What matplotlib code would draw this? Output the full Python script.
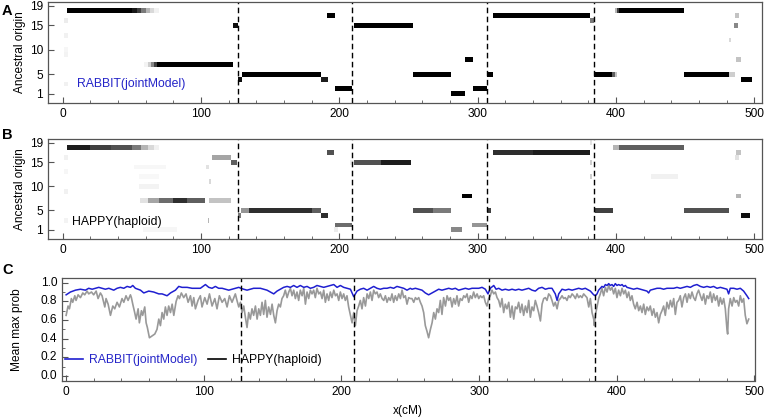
import numpy as np
import matplotlib
matplotlib.use('Agg')
import matplotlib.pyplot as plt
from matplotlib.lines import Line2D
from matplotlib.ticker import MultipleLocator, FixedLocator
from matplotlib.transforms import blended_transform_factory

plt.rcParams['font.family'] = ['Liberation Sans', 'DejaVu Sans']

# ---------------- data ----------------
chrom_boundaries = [127, 209, 307, 384]
founder_ticks = [1, 5, 10, 15, 19]
n_founders = 19
x_major_ticks = [0, 100, 200, 300, 400, 500]
prob_ticks = [0.0, 0.2, 0.4, 0.6, 0.8, 1.0]
prob_tick_labels = ['0.0', '0.2', '0.4', '0.6', '0.8', '1.0']

# (start cM, end cM, founder, posterior probability)
rabbit_segments = [
    (3, 50, 18, 1.0), (50, 54, 18, 0.92), (54, 57, 18, 0.8), (57, 60, 18, 0.6),
    (60, 63, 18, 0.4), (63, 66, 18, 0.25), (66, 70, 18, 0.12),
    (59, 62, 7, 0.1), (62, 64, 7, 0.3), (64, 66, 7, 0.55), (66, 68, 7, 0.8), (68, 123, 7, 1.0),
    (123, 127, 15, 0.95), (127, 130, 4, 0.95), (130, 187, 5, 1.0),
    (187, 192, 4, 0.9), (191, 197, 17, 1.0), (197, 209, 2, 1.0),
    (211, 253, 15, 1.0), (253, 281, 5, 1.0), (281, 291, 1, 1.0),
    (291, 297, 8, 1.0), (297, 307, 2, 1.0), (307, 311, 5, 1.0),
    (311, 381, 17, 1.0), (381, 384, 16, 0.6), (384, 397, 5, 1.0),
    (397, 399, 5, 0.7), (399, 401, 5, 0.35), (399, 401, 18, 0.4), (401, 402, 18, 0.8),
    (402, 449, 18, 1.0),
    (449, 482, 5, 1.0), (482, 486, 5, 0.3), (490, 498, 4, 1.0),
    (486, 489, 17, 0.35), (485, 488, 15, 0.55), (487, 490, 8, 0.35),
    (482, 483, 12, 0.25),
    (1, 4, 16, 0.15), (1, 4, 13, 0.12), (1, 4, 10, 0.08), (1, 4, 9, 0.1), (1, 4, 3, 0.12),
]

happy_segments = [
    (3, 20, 18, 0.9), (20, 35, 18, 0.8), (35, 50, 18, 0.75), (50, 57, 18, 0.6),
    (57, 62, 18, 0.4), (62, 66, 18, 0.25), (66, 70, 18, 0.12),
    (56, 62, 7, 0.2), (62, 70, 7, 0.45), (70, 80, 7, 0.65), (80, 90, 7, 0.85),
    (90, 103, 7, 0.7), (106, 122, 7, 0.35),
    (108, 122, 16, 0.45), (122, 126, 15, 0.7), (127, 129, 4, 0.6),
    (129, 135, 5, 0.5), (135, 180, 5, 0.85), (180, 187, 5, 0.7),
    (187, 192, 4, 0.85), (191, 196, 17, 0.75), (197, 209, 2, 0.65),
    (211, 230, 15, 0.75), (230, 252, 15, 0.9),
    (253, 268, 5, 0.75), (268, 281, 5, 0.6), (281, 289, 1, 0.55),
    (289, 296, 8, 1.0), (296, 307, 2, 0.5), (307, 310, 5, 0.8),
    (311, 340, 17, 0.85), (340, 381, 17, 0.9),
    (381, 383, 19, 0.2), (381, 383, 15, 0.3), (381, 383, 12, 0.3),
    (385, 398, 5, 0.8), (398, 402, 18, 0.4), (402, 449, 18, 0.7),
    (425, 445, 12, 0.12), (449, 482, 5, 0.75), (490, 497, 4, 0.95),
    (487, 490, 17, 0.35), (486, 489, 16, 0.2), (487, 490, 8, 0.4),
    (105, 106, 3, 0.4), (106, 107, 11, 0.25), (104, 106, 14, 0.2),
    (58, 83, 1, 0.08), (52, 75, 14, 0.07), (55, 70, 12, 0.06), (55, 70, 10, 0.1),
    (1, 4, 16, 0.12), (1, 4, 9, 0.12), (1, 4, 13, 0.08), (1, 4, 3, 0.1),
    (196, 199, 1, 0.15), (208, 212, 15, 0.15),
]

rabbit_x = [0.0, 3.1, 6.8, 10.4, 14.0, 16.4, 18.9, 21.3, 23.7, 26.1, 28.5, 31.0, 34.6,
            37.0, 39.4, 41.9, 44.3, 46.7, 48.4, 50.3, 54.0, 56.4, 60.0, 63.6, 67.3, 69.7,
            73.3, 75.8, 79.4, 81.8, 84.2, 87.9, 91.5, 93.9, 97.5, 101.2, 103.6, 106.0,
            108.4, 110.8, 113.3, 115.7, 118.1, 120.5, 122.9,
            125.4, 127.0, 129.0, 131.4, 133.8, 136.2, 138.7, 141.1, 143.5, 145.9, 148.4,
            150.8, 153.2, 155.6, 158.0, 160.5, 162.9, 165.3, 167.7, 170.1, 172.6, 175.0,
            177.4, 179.8, 182.2, 184.7, 187.1, 189.5, 191.9, 194.4, 196.8, 199.2, 201.6,
            204.0, 206.5, 208.9, 211.3, 213.7, 216.1, 218.6, 221.0, 223.4, 225.8, 228.2,
            230.7, 233.1, 235.5, 237.9, 240.3, 242.8, 245.2, 247.6, 250.0,
            251.2, 253.7, 256.1, 258.5, 260.9, 263.3, 265.8, 268.2, 270.6, 273.0, 275.5,
            277.9, 280.3, 282.7, 285.1, 287.6, 290.0, 292.4, 294.8, 297.2, 299.7, 302.1,
            304.5, 306.4, 308.1, 310.6, 312.3, 314.2, 316.6, 319.0, 321.5, 323.9, 326.3,
            328.7, 331.1, 333.6, 336.0, 338.4, 340.8, 343.2, 345.7, 348.1, 350.5, 352.9,
            355.3, 356.6, 357.8, 360.2, 362.6, 365.0, 367.5, 369.9, 372.3, 374.7, 377.1,
            378.3, 380.8, 383.2, 384.4, 385.6, 386.8, 388.0, 389.2, 390.4, 391.7, 392.9,
            394.1, 395.3, 396.5, 397.7, 398.9, 400.1, 401.3, 402.6, 403.8, 405.0, 406.2,
            407.4, 409.8, 412.2, 414.7, 417.1, 419.5, 421.9, 423.1, 424.3, 426.8, 429.2,
            431.6, 434.0, 436.4, 438.9, 441.3, 443.7, 446.1, 448.6, 451.0, 453.4, 455.8,
            458.2, 460.7, 463.1, 465.5, 467.9, 470.3, 472.8, 475.2, 477.6, 480.0, 481.2,
            482.4, 484.9, 487.3, 489.7, 492.1, 494.5, 495.8]
rabbit_prob = [0.87, 0.90, 0.92, 0.93, 0.92, 0.94, 0.93, 0.94, 0.95, 0.94, 0.93, 0.94, 0.92,
               0.94, 0.95, 0.94, 0.96, 0.95, 0.97, 0.94, 0.92, 0.89, 0.91, 0.90, 0.88, 0.88,
               0.86, 0.89, 0.92, 0.96, 0.95, 0.95, 0.94, 0.94, 0.94, 0.98, 0.95, 0.94,
               0.96, 0.94, 0.94, 0.93, 0.92, 0.93, 0.94,
               0.95, 0.94, 0.93, 0.92, 0.93, 0.94, 0.94, 0.94, 0.93, 0.92, 0.90,
               0.88, 0.91, 0.93, 0.95, 0.96, 0.95, 0.97, 0.95, 0.97, 0.95, 0.96,
               0.94, 0.95, 0.97, 0.96, 0.95, 0.96, 0.97, 0.98, 0.95, 0.97, 0.95,
               0.94, 0.93, 0.85, 0.91, 0.93, 0.94, 0.92, 0.94, 0.96, 0.94, 0.93,
               0.94, 0.94, 0.95, 0.94, 0.96, 0.95, 0.94, 0.92, 0.94,
               0.93, 0.94, 0.93, 0.92, 0.89, 0.87, 0.89, 0.91, 0.93, 0.92, 0.93,
               0.94, 0.93, 0.94, 0.92, 0.93, 0.94, 0.93, 0.94, 0.94, 0.94, 0.95,
               0.93, 0.88, 0.94, 0.97, 0.93, 0.94, 0.92, 0.93, 0.92, 0.93, 0.92,
               0.93, 0.92, 0.93, 0.94, 0.92, 0.91, 0.94, 0.95, 0.93, 0.94, 0.94,
               0.88, 0.81, 0.88, 0.93, 0.92, 0.93, 0.92, 0.93, 0.94, 0.93, 0.94,
               0.93, 0.91, 0.87, 0.86, 0.88, 0.92, 0.94, 0.96, 0.95, 0.98, 0.97,
               0.99, 0.97, 0.98, 0.96, 0.99, 0.97, 0.98, 0.97, 0.98, 0.96, 0.97,
               0.95, 0.94, 0.93, 0.94, 0.93, 0.92, 0.91, 0.89, 0.92, 0.93, 0.94,
               0.94, 0.93, 0.94, 0.94, 0.94, 0.95, 0.94, 0.95, 0.96, 0.95, 0.97,
               0.98, 0.96, 0.95, 0.96, 0.95, 0.96, 0.94, 0.95, 0.94, 0.93, 0.88,
               0.94, 0.94, 0.93, 0.94, 0.91, 0.86, 0.83]

happy_x = [0.0, 1.4, 2.4, 3.8, 4.8, 6.3, 7.2, 8.7, 10.4, 12.1, 13.5, 15.2, 16.4, 18.4, 20.0,
           21.8, 23.2, 24.9, 26.1, 28.1, 29.0, 30.5, 32.2, 33.9, 35.3, 37.0, 38.7, 40.6,
           41.9, 43.5, 45.0, 46.7, 47.4, 48.4, 49.8, 50.8, 52.3, 53.2, 54.7, 55.6, 57.1,
           58.1, 59.0, 60.5, 62.4, 64.4, 66.0, 67.3, 68.5, 69.7, 70.9, 72.1, 73.3, 74.5,
           75.8, 77.0, 78.2, 79.9, 81.3, 82.3, 83.7, 85.4, 87.1, 88.6, 90.3, 91.5, 92.7,
           93.9, 95.8, 97.5, 98.7, 100.7, 102.4, 104.1, 106.0, 108.0, 109.6, 111.3, 113.3,
           115.2, 116.9, 118.6, 120.5, 122.9,
           124.1, 125.4, 126.6, 127.8, 129.0, 130.2, 131.4, 132.6, 133.8, 135.0, 136.2,
           137.5, 138.7, 139.9, 141.1, 142.3, 143.5, 144.7, 145.9, 147.1, 148.4, 149.6,
           150.8, 152.0, 153.2, 154.4, 155.6, 156.8, 158.0, 159.2, 160.5, 161.7, 162.9,
           164.1, 165.3, 166.5, 167.7, 168.9, 170.1, 171.4, 172.6, 173.8, 175.0, 176.2,
           177.4, 178.6, 179.8, 181.0, 182.2, 183.5, 184.7, 185.9, 187.1, 188.3, 189.5,
           190.7, 191.9, 193.1, 194.4, 195.6, 196.8, 198.0, 199.2, 200.4, 201.6, 202.8,
           204.0, 205.2, 206.5, 207.7, 208.9, 210.1, 211.3, 212.5, 213.7, 214.9, 216.1,
           217.4, 218.6, 219.8, 221.0, 222.2, 223.4, 224.6, 225.8, 227.0, 228.2, 229.5,
           230.7, 231.9, 233.1, 234.3, 235.5, 236.7, 237.9, 239.1, 240.3, 241.6, 242.8,
           244.0, 245.2, 246.4, 247.6, 248.8, 250.0,
           251.2, 252.5, 253.7, 254.9, 256.1, 257.3, 258.5, 259.7, 260.9, 262.1, 263.3,
           264.6, 265.8, 267.0, 268.2, 269.4, 270.6, 271.8, 273.0, 274.2, 275.5, 276.7,
           277.9, 279.1, 280.3, 281.5, 282.7, 283.9, 285.1, 286.3, 287.6, 288.8, 290.0,
           291.2, 292.4, 293.6, 294.8, 296.0, 297.2, 298.5, 299.7, 300.9, 302.1, 303.3,
           304.5, 305.7, 306.9, 308.1, 309.3, 310.6, 311.8, 313.0, 314.2, 315.4, 316.6,
           317.8, 319.0, 320.2, 321.5, 322.7, 323.9, 325.1, 326.3, 327.5, 328.7, 329.9,
           331.1, 332.3, 333.6, 334.8, 336.0, 337.2, 338.4, 339.6, 340.8, 342.0, 343.2,
           344.5, 345.7, 346.9, 348.1, 349.3, 350.5, 351.7, 352.9, 354.1, 355.3, 356.6,
           357.8, 359.0, 360.2, 361.4, 362.6, 363.8, 365.0, 366.2, 367.5, 368.7, 369.9,
           371.1, 372.3, 373.5, 374.7, 375.9, 377.1,
           378.3, 379.6, 380.8, 382.0, 383.2, 383.7, 384.4, 385.6, 386.8, 388.0, 389.2,
           390.4, 391.7, 392.9, 394.1, 395.3, 396.5, 397.7, 398.9, 400.1, 401.3, 402.6,
           403.8, 405.0, 406.2, 407.4, 408.6, 409.8, 411.0, 412.2, 413.4, 414.7, 415.9,
           417.1, 418.3, 419.5, 420.7, 421.9, 423.1, 424.3, 425.6, 426.8, 428.0, 429.2,
           430.4, 431.6, 432.8, 434.0, 435.2, 436.4, 437.7, 438.9, 440.1, 441.3, 442.5,
           443.7, 444.9, 446.1, 447.3, 448.6, 449.8, 451.0, 452.2, 453.4, 454.6, 455.8,
           457.0, 458.2, 459.4, 460.7, 461.9, 463.1, 464.3, 465.5, 466.7, 467.9, 469.1,
           470.3, 471.6, 472.8, 474.0, 475.2, 476.4, 477.6, 478.8, 480.0, 480.5, 481.2,
           482.4, 483.7, 484.9, 486.1, 487.3, 488.5, 489.7, 490.9, 492.1, 493.3, 494.5,
           495.8]
happy_prob = [0.65, 0.75, 0.72, 0.83, 0.79, 0.86, 0.81, 0.87, 0.84, 0.89, 0.87, 0.91, 0.88, 0.90, 0.87,
              0.91, 0.83, 0.89, 0.86, 0.74, 0.83, 0.77, 0.65, 0.75, 0.72, 0.79, 0.74, 0.83,
              0.79, 0.86, 0.81, 0.87, 0.84, 0.77, 0.68, 0.61, 0.72, 0.57, 0.70, 0.65, 0.74,
              0.57, 0.52, 0.41, 0.43, 0.45, 0.50, 0.61, 0.54, 0.68, 0.61, 0.74, 0.65, 0.75,
              0.68, 0.77, 0.65, 0.80, 0.86, 0.83, 0.89, 0.84, 0.88, 0.79, 0.86, 0.75, 0.84,
              0.72, 0.81, 0.86, 0.74, 0.84, 0.77, 0.88, 0.75, 0.83, 0.72, 0.86, 0.79,
              0.83, 0.74, 0.86, 0.79, 0.88,
              0.81, 0.74, 0.79, 0.68, 0.75, 0.63, 0.52, 0.68, 0.61, 0.72, 0.65,
              0.75, 0.61, 0.72, 0.65, 0.79, 0.66, 0.81, 0.63, 0.74, 0.66, 0.77,
              0.65, 0.57, 0.70, 0.77, 0.74, 0.83, 0.86, 0.92, 0.84, 0.90, 0.94,
              0.86, 0.92, 0.83, 0.90, 0.81, 0.92, 0.86, 0.94, 0.77, 0.90, 0.83,
              0.92, 0.88, 0.92, 0.84, 0.94, 0.88, 0.90, 0.83, 0.92, 0.79, 0.88,
              0.81, 0.90, 0.84, 0.92, 0.86, 0.88, 0.81, 0.90, 0.83, 0.88, 0.81,
              0.86, 0.74, 0.65, 0.57, 0.68, 0.54, 0.70, 0.75, 0.81, 0.72, 0.84,
              0.75, 0.88, 0.83, 0.90, 0.81, 0.92, 0.88, 0.90, 0.84, 0.88, 0.83,
              0.81, 0.86, 0.79, 0.84, 0.81, 0.88, 0.79, 0.86, 0.81, 0.88, 0.83,
              0.92, 0.84, 0.86, 0.77, 0.84, 0.83,
              0.83, 0.79, 0.84, 0.82, 0.84, 0.79, 0.75, 0.68, 0.54, 0.48, 0.41,
              0.50, 0.57, 0.68, 0.61, 0.72, 0.68, 0.81, 0.66, 0.84, 0.75, 0.86,
              0.81, 0.84, 0.74, 0.83, 0.77, 0.86, 0.75, 0.83, 0.81, 0.86, 0.84,
              0.88, 0.79, 0.86, 0.83, 0.90, 0.84, 0.88, 0.83, 0.86, 0.84, 0.86,
              0.79, 0.75, 0.83, 0.86, 0.92, 0.88, 0.90, 0.84, 0.81, 0.74, 0.83,
              0.68, 0.77, 0.72, 0.79, 0.63, 0.75, 0.61, 0.74, 0.72, 0.79, 0.68,
              0.77, 0.65, 0.75, 0.68, 0.81, 0.63, 0.74, 0.70, 0.81, 0.75, 0.68,
              0.59, 0.77, 0.83, 0.84, 0.81, 0.88, 0.86, 0.81, 0.75, 0.79, 0.72,
              0.81, 0.83, 0.86, 0.83, 0.84, 0.81, 0.86, 0.84, 0.88, 0.86, 0.83,
              0.88, 0.84, 0.86, 0.84, 0.88, 0.86,
              0.84, 0.74, 0.83, 0.68, 0.61, 0.54, 0.65, 0.74, 0.83, 0.88, 0.94,
              0.86, 0.95, 0.90, 0.97, 0.92, 0.95, 0.88, 0.94, 0.84, 0.92, 0.86,
              0.94, 0.88, 0.92, 0.84, 0.90, 0.81, 0.86, 0.77, 0.72, 0.79, 0.70,
              0.75, 0.68, 0.77, 0.66, 0.74, 0.70, 0.75, 0.65, 0.72, 0.63, 0.68,
              0.57, 0.66, 0.70, 0.75, 0.65, 0.79, 0.72, 0.81, 0.74, 0.83, 0.66,
              0.79, 0.81, 0.86, 0.74, 0.84, 0.88, 0.79, 0.88, 0.83, 0.90, 0.84,
              0.81, 0.88, 0.92, 0.86, 0.81, 0.88, 0.77, 0.86, 0.83, 0.90, 0.79,
              0.88, 0.81, 0.86, 0.75, 0.84, 0.77, 0.83, 0.72, 0.50, 0.45, 0.72,
              0.83, 0.75, 0.84, 0.79, 0.81, 0.75, 0.86, 0.79, 0.83, 0.65, 0.56,
              0.61]


def build_matrix(segments, res=0.5, xmax=500.0):
    edges = np.arange(0.0, xmax + res, res)
    centers = edges[:-1] + res / 2
    M = np.zeros((n_founders, len(centers)))
    for s, e, r, v in segments:
        mask = (centers >= s) & (centers < e)
        M[r - 1, mask] = np.maximum(M[r - 1, mask], v)
    return edges, M


SPINE = '#555555'
TFS = 8.6     # tick labels
LFS = 8.6     # axis labels
NFS = 8.8     # method names

fig = plt.figure(figsize=(7.64, 4.17), dpi=100)
W, H = 764.0, 417.0


def add_ax(l, r, t, b):
    return fig.add_axes([l / W, 1 - b / H, (r - l) / W, (b - t) / H])


def style(ax):
    for s in ax.spines.values():
        s.set_color(SPINE)
        s.set_linewidth(0.9)
    ax.tick_params(which='both', direction='in', color=SPINE, labelsize=TFS,
                   top=False, right=False)
    ax.tick_params(which='major', length=4)
    ax.tick_params(which='minor', length=2)
    ax.xaxis.set_major_locator(FixedLocator(x_major_ticks))
    ax.xaxis.set_minor_locator(MultipleLocator(20))


yedges = np.arange(0.5, n_founders + 1.5, 1.0)

panels = [
    (rabbit_segments, 2, 103, 'A', 'RABBIT(jointModel)', '#2424c8', 10.4, 3.0, 11),
    (happy_segments, 139, 239, 'B', 'HAPPY(haploid)', 'black', 6.5, 2.6, 135),
]
for segs, top, bot, letter, name, col, tx, ty, ly in panels:
    ax = add_ax(48, 762, top, bot)
    xe, M = build_matrix(segs)
    ax.pcolormesh(xe, yedges, M, cmap='Greys', vmin=0, vmax=1, shading='flat')
    for b in chrom_boundaries:
        ax.axvline(b, color='black', ls=(0, (4, 2.5)), lw=1.0)
    ax.set_xlim(-10.5, 505.5)
    ax.set_ylim(-0.9, 19.8)
    ax.set_yticks(founder_ticks)
    style(ax)
    ax.set_ylabel('Ancestral origin', fontsize=LFS, labelpad=3)
    ax.text(tx, ty, name, color=col, fontsize=NFS, va='center', ha='left')
    fig.text(2 / W, 1 - ly / H, letter, fontsize=10.5, fontweight='bold',
             va='center', ha='left')

# Panel C
axc = add_ax(62, 754.5, 278.3, 380.7)
axc.plot(happy_x, happy_prob, color='#999999', lw=1.2)
axc.plot(rabbit_x, rabbit_prob, color='#1f1fd0', lw=1.1)
for b in chrom_boundaries:
    axc.axvline(b, color='black', ls=(0, (4, 2.5)), lw=1.0)
axc.set_xlim(-3, 500)
axc.set_ylim(-0.05, 1.047)
style(axc)
axc.set_yticks(prob_ticks)
axc.yaxis.set_minor_locator(MultipleLocator(0.1))
axc.tick_params(axis='y', which='both', labelleft=False)
ytrans = blended_transform_factory(axc.transAxes, axc.transData)
for v, lab in zip(prob_ticks, prob_tick_labels):
    axc.text(-0.007, v, lab, transform=ytrans, ha='right', va='center',
             fontsize=TFS, color='black', clip_on=False, zorder=10)
axc.set_ylabel('Mean max prob', fontsize=LFS)
axc.yaxis.set_label_coords(-0.057, 0.5)
axc.set_xlabel('x(cM)', fontsize=LFS, labelpad=5)
handles = [Line2D([], [], color='#1f1fd0', lw=1.2), Line2D([], [], color='black', lw=1.2)]
leg = axc.legend(handles, ['RABBIT(jointModel)', 'HAPPY(haploid)'], loc='center left',
                 bbox_to_anchor=(-0.003, 0.2), ncol=2, frameon=False, fontsize=NFS,
                 handlelength=1.5, columnspacing=0.85, handletextpad=0.5,
                 borderaxespad=0.0)
leg.get_texts()[0].set_color('#2424c8')
leg.get_texts()[1].set_color('black')
fig.text(2 / W, 1 - 270 / H, 'C', fontsize=10.5, fontweight='bold', va='center', ha='left')

fig.savefig('out.png', dpi=100)
